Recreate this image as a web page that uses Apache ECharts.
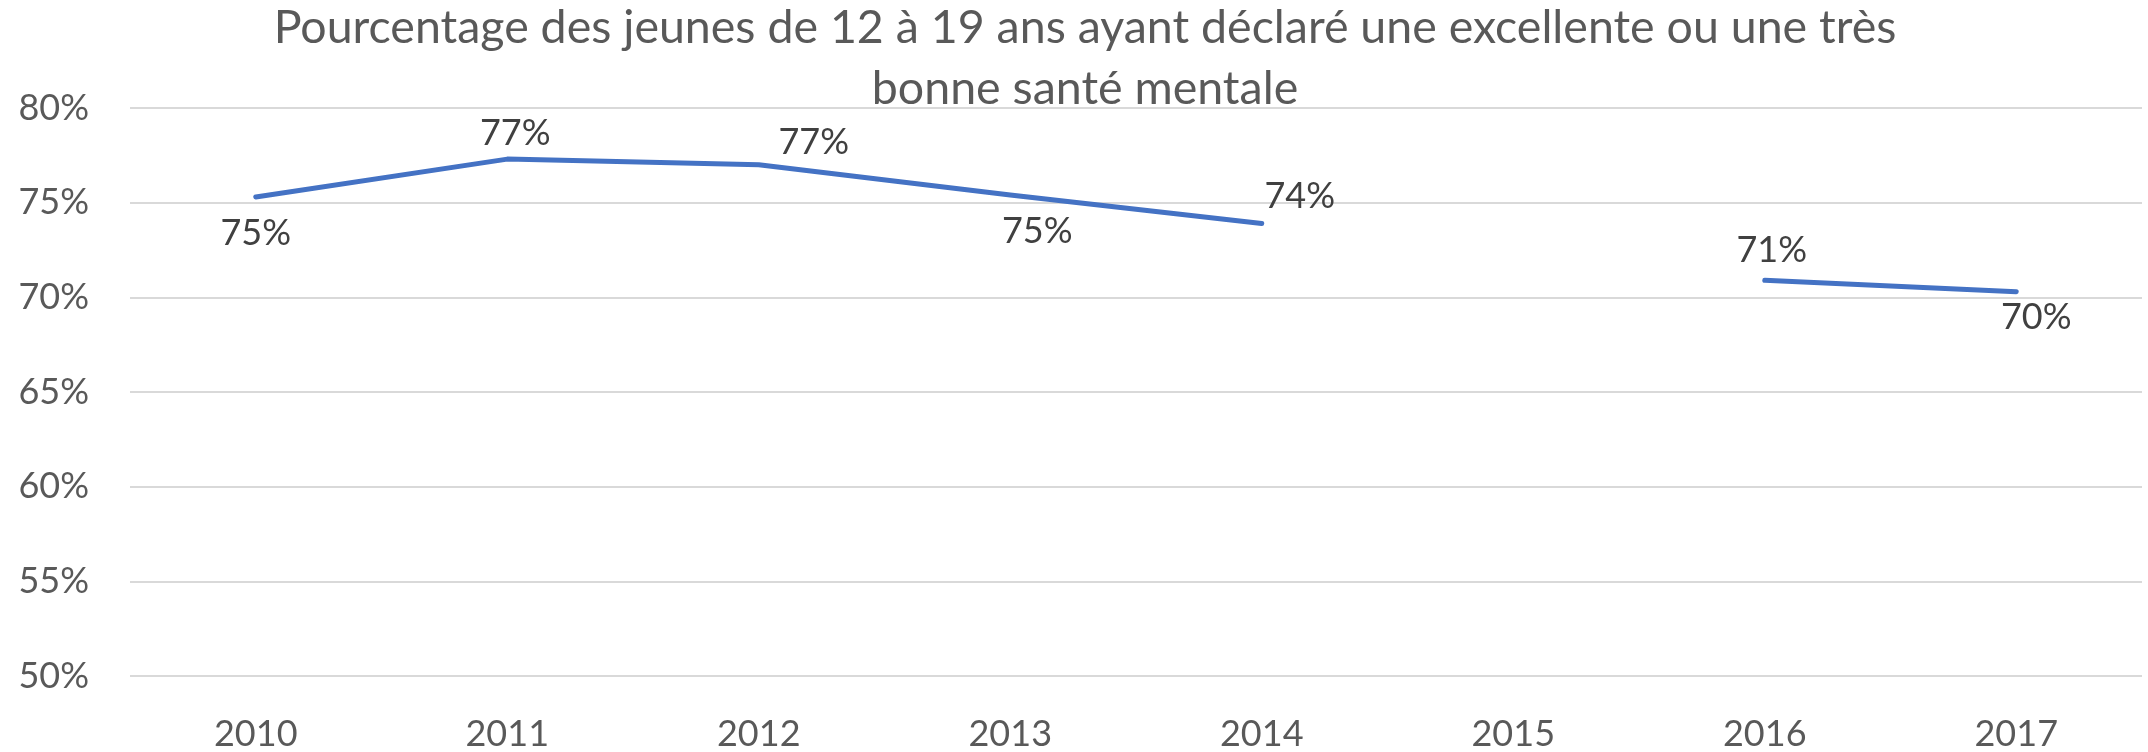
<!DOCTYPE html>
<html>
<head>
<meta charset="utf-8">
<script src="https://cdn.jsdelivr.net/npm/echarts@6/dist/echarts.min.js"></script>
<style>
  html, body { margin: 0; padding: 0; background: #fff; }
  #chart { width: 2148px; height: 752px; }
</style>
</head>
<body>
<div id="chart"></div>
<script>
// 数据
const years = ['2010', '2011', '2012', '2013', '2014', '2015', '2016', '2017'];
const values = [75.3, 77.3, 77.0, 75.4, 73.9, null, 70.9, 70.3];
const yTicks = [50, 55, 60, 65, 70, 75, 80];
const titleText = 'Pourcentage des jeunes de 12 à 19 ans ayant déclaré une excellente ou une très\nbonne santé mentale';

// 数据标签偏移（相对于点）
const labelOffsets = [[0, 36], [8, -26], [55, -22], [27, 36], [38, -27], [0, 0], [7, -30], [20, 26]];

const font = 'Lato, "Noto Sans", sans-serif';

function set_chart(id) {
  let chartDom = document.getElementById(id);
  let mychart = echarts.init(chartDom);

  let seriesData = values.map(function(v, i) {
    return {
      value: v,
      label: { offset: labelOffsets[i] }
    };
  });

  let option = {
    animation: false,
    // 标题（居中在 x=1085）
    graphic: [
      {
        type: 'text',
        x: 1085,
        y: -3,
        style: {
          text: titleText,
          align: 'center',
          verticalAlign: 'top',
          fontFamily: font,
          fontSize: 46.5,
          lineHeight: 61,
          fill: '#595959'
        }
      }
    ],
    grid: {
      left: 130,
      right: 6,
      top: 108,
      bottom: 74
    },
    xAxis: {
      type: 'category',
      data: years,
      boundaryGap: true,
      axisLine: { show: false },
      axisTick: { show: false },
      axisLabel: {
        fontFamily: font,
        fontSize: 36,
        color: '#595959',
        margin: 40
      }
    },
    yAxis: {
      type: 'value',
      min: yTicks[0],
      max: yTicks[yTicks.length - 1],
      interval: 5,
      axisLine: { show: false },
      axisTick: { show: false },
      splitLine: { lineStyle: { color: '#D9D9D9', width: 2 } },
      axisLabel: {
        fontFamily: font,
        fontSize: 36,
        color: '#595959',
        margin: 41,
        formatter: function(value) {
          return value + '%';
        }
      }
    },
    series: [
      {
        type: 'line',
        data: seriesData,
        connectNulls: false,
        showSymbol: true,
        symbol: 'circle',
        symbolSize: 0.1,
        itemStyle: { color: '#4472C4' },
        lineStyle: { color: '#4472C4', width: 5, cap: 'round', join: 'round' },
        label: {
          show: true,
          position: 'inside',
          fontFamily: font,
          fontSize: 36,
          color: '#404040',
          formatter: function(p) {
            return Math.round(p.value) + '%';
          }
        }
      }
    ]
  };
  option && mychart.setOption(option);
}

set_chart('chart');
</script>
</body>
</html>
